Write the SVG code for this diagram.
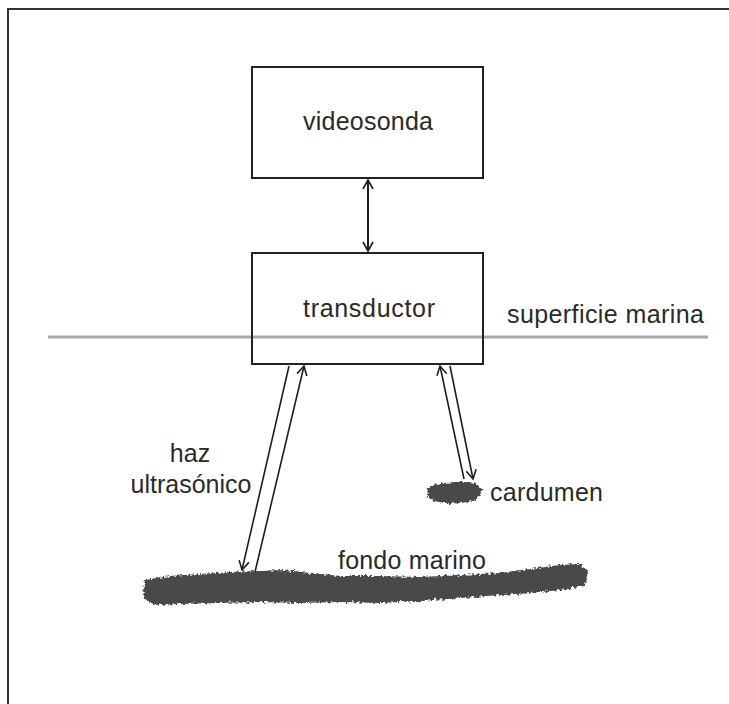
<svg xmlns="http://www.w3.org/2000/svg" width="729" height="704" viewBox="0 0 729 704">
  <style>
    .box { fill: #ffffff; stroke: #222222; stroke-width: 2; }
    .lbl { font-family: "Liberation Sans", Arial, sans-serif; font-size: 25px; fill: #2a2a2a; }
    .beam { fill: none; stroke: #1e1e1e; stroke-width: 1.6; }
    .link { fill: none; stroke: #1e1e1e; stroke-width: 2; }
    .mass { fill: #4a4a4a; }
  </style>
  <defs>
    <marker id="head" markerWidth="12" markerHeight="12" refX="10" refY="6" orient="auto-start-reverse" markerUnits="userSpaceOnUse">
      <path d="M1,1 L10,6 L1,11" fill="none" stroke="#1e1e1e" stroke-width="1.6"/>
    </marker>
    <filter id="rough" x="-5%" y="-40%" width="110%" height="180%">
      <feTurbulence type="fractalNoise" baseFrequency="0.35" numOctaves="2" seed="4" result="n"/>
      <feDisplacementMap in="SourceGraphic" in2="n" scale="6" xChannelSelector="R" yChannelSelector="G"/>
    </filter>
  </defs>

  <rect width="729" height="704" fill="#ffffff"/>

  <!-- outer frame (top and left edges) -->
  <path d="M8,704 L8,9 L729,9" fill="none" stroke="#333333" stroke-width="2"/>

  <!-- sea surface -->
  <g id="superficie">
    <line x1="48" y1="337" x2="708" y2="337" stroke="#a8a8a8" stroke-width="3"/>
    <text class="lbl" x="507" y="323" textLength="197">superficie marina</text>
  </g>

  <g id="videosonda">
    <rect class="box" x="252" y="67" width="231" height="111"/>
    <text class="lbl" x="368" y="130" text-anchor="middle" textLength="130">videosonda</text>
  </g>

  <g id="transductor">
    <rect class="box" x="252" y="253" width="231" height="111" fill="none" style="fill:none"/>
    <text class="lbl" x="369" y="317" text-anchor="middle" textLength="132">transductor</text>
  </g>

  <g id="fondo">
    <path class="mass" filter="url(#rough)" d="M145,580 L170,576 L200,574 L230,572 L260,571 L285,570 L310,573 L340,576 L380,576 L420,577 L460,575 L500,573 L530,569 L560,565 L580,564 L588,572 L585,586 L560,590 L530,593 L500,595 L460,598 L420,601 L380,603 L340,602 L300,603 L260,602 L220,603 L180,604 L155,605 L145,599 L143,589 Z"/>
    <text class="lbl" x="338" y="569" textLength="148">fondo marino</text>
  </g>

  <g id="cardumen">
    <path class="mass" filter="url(#rough)" d="M427,490 C430,483 445,483 455,482 C466,481 478,482 481,489 C484,496 474,502 460,503 C446,504 432,502 428,497 Z"/>
    <text class="lbl" x="490" y="501" textLength="113">cardumen</text>
  </g>

  <g id="haz">
    <text class="lbl" x="190" y="462" text-anchor="middle">haz</text>
    <text class="lbl" x="191" y="493" text-anchor="middle" textLength="121">ultrasónico</text>
  </g>

  <g id="conectores">
    <line class="link" x1="368" y1="180" x2="368" y2="251" marker-start="url(#head)" marker-end="url(#head)"/>
    <!-- beam to the seabed and its echo -->
    <line class="beam" x1="289" y1="366" x2="242" y2="570" marker-end="url(#head)"/>
    <line class="beam" x1="255" y1="572" x2="304" y2="366" marker-end="url(#head)"/>
    <!-- beam to the fish school and its echo -->
    <line class="beam" x1="464" y1="479" x2="440" y2="366" marker-end="url(#head)"/>
    <line class="beam" x1="450" y1="366" x2="473" y2="479" marker-end="url(#head)"/>
  </g>
</svg>
